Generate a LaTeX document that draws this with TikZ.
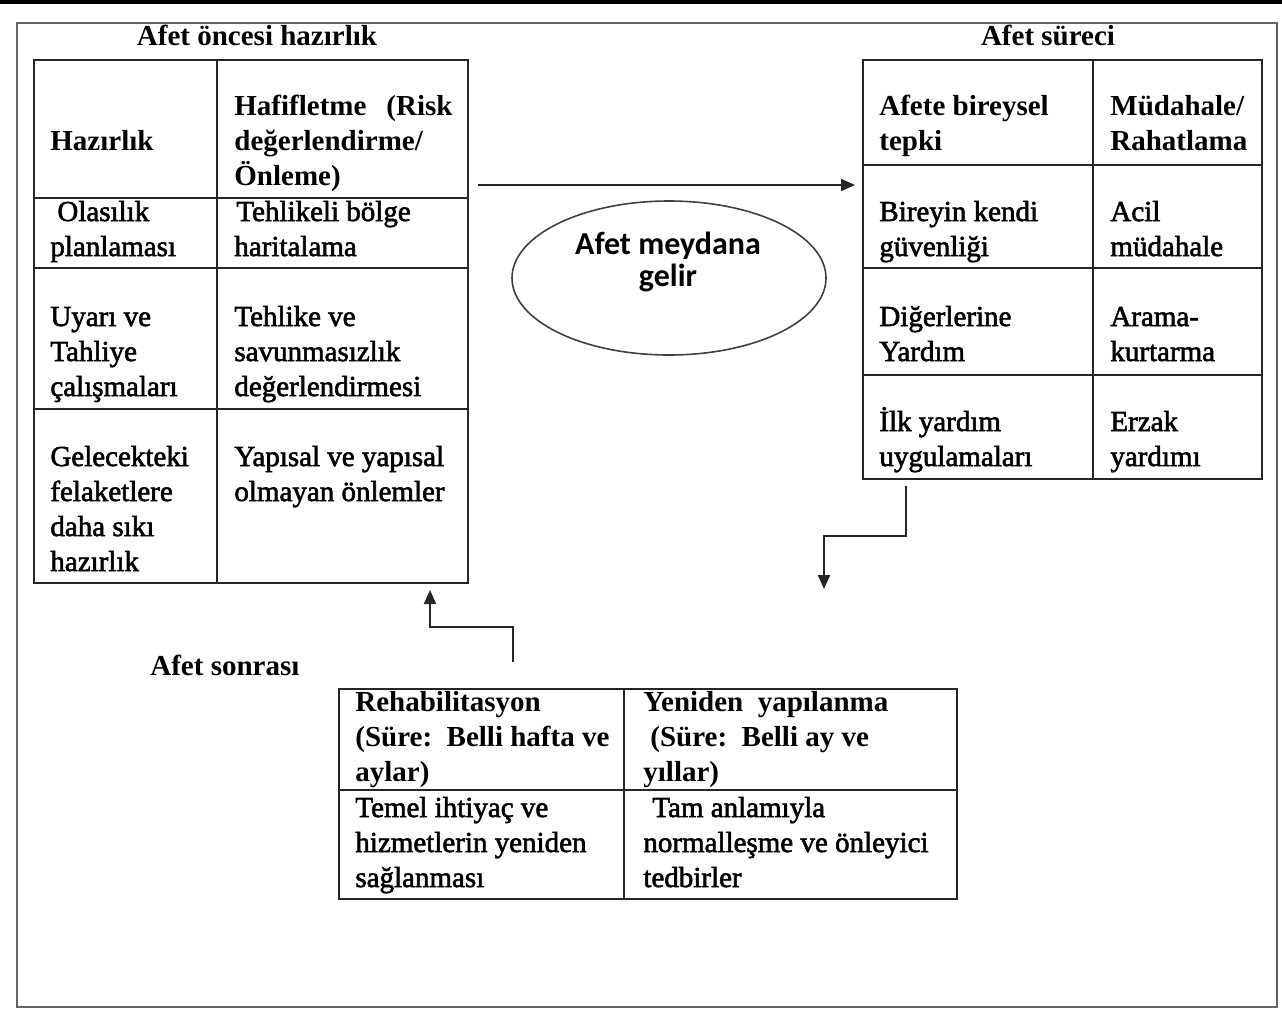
\documentclass[tikz,border=0pt]{standalone}
\usepackage{fontspec}
\setmainfont{Liberation Serif}
\newfontfamily\bodyfont{Liberation Serif}[FakeBold=2]
\newfontfamily\calibrifont{Carlito}
\usetikzlibrary{shapes.geometric,arrows.meta}
\begin{document}
\begin{tikzpicture}[x=0.5pt,y=-0.5pt,
  line/.style={draw=black!85, line width=1pt},
  tbl/.style={draw=black!85, line width=1pt, inner sep=0pt, anchor=north west},
  frame/.style={draw=black!60, line width=0.8pt},
  body/.style={anchor=base west, inner sep=0pt, yshift=-1.5pt, font=\fontsize{14.5pt}{17.5pt}\bodyfont},
  head/.style={anchor=base west, inner sep=0pt, yshift=-1.5pt, font=\fontsize{14.5pt}{17.5pt}\bfseries},
  ttl/.style={anchor=base, inner sep=0pt, yshift=-1pt, font=\fontsize{14.5pt}{17.5pt}\bfseries},
  arr/.style={draw=black!85, line width=1pt, -{Triangle[length=7pt,width=6pt]}},
]
\useasboundingbox (0,0) rectangle (1282,1009);
\fill[black] (0,0) rectangle (1282,4);
\draw[frame] (17,23) rectangle (1277,1007);

% tables
\node[tbl, minimum width=217pt, minimum height=261.5pt] (lt) at (33,59) {};
\draw[line] (217,59) -- (217,582);
\draw[line] (33,198) -- (467,198);
\draw[line] (33,268) -- (467,268);
\draw[line] (33,409) -- (467,409);

\node[tbl, minimum width=199.5pt, minimum height=209.5pt] (rt) at (862,59) {};
\draw[line] (1093,59) -- (1093,478);
\draw[line] (862,165) -- (1261,165);
\draw[line] (862,268) -- (1261,268);
\draw[line] (862,375) -- (1261,375);

\node[tbl, minimum width=309pt, minimum height=105pt] (bt) at (338,688) {};
\draw[line] (624,688) -- (624,898);
\draw[line] (338,790) -- (956,790);

% titles
\node[ttl] (ttl1) at (257,43) {Afet öncesi hazırlık};
\node[ttl] (ttl2) at (1048,43) {Afet süreci};
\node[head] (ttl3) at (150,672) {Afet sonrası};

% left table texts
\node[head] (a1) at (50,147) {Hazırlık};
\node[head] (a2) at (234,112) {Hafifletme\hspace{10pt}(Risk};
\node[head] (a3) at (234,147) {değerlendirme/};
\node[head] (a4) at (234,182) {Önleme)};
\node[body] (a5) at (57,218) {Olasılık};
\node[body] (a6) at (50,253) {planlaması};
\node[body] (a7) at (236,218) {Tehlikeli bölge};
\node[body] (a8) at (234,253) {haritalama};
\node[body] (a9) at (50,323) {Uyarı ve};
\node[body] (a10) at (50,358) {Tahliye};
\node[body] (a11) at (50,393) {çalışmaları};
\node[body] (a12) at (234,323) {Tehlike ve};
\node[body] (a13) at (234,358) {savunmasızlık};
\node[body] (a14) at (234,393) {değerlendirmesi};
\node[body] (a15) at (50,463) {Gelecekteki};
\node[body] (a16) at (50,498) {felaketlere};
\node[body] (a17) at (50,533) {daha sıkı};
\node[body] (a18) at (50,568) {hazırlık};
\node[body] (a19) at (234,463) {Yapısal ve yapısal};
\node[body] (a20) at (234,498) {olmayan önlemler};

% right table texts
\node[head] (b1) at (879,112) {Afete bireysel};
\node[head] (b2) at (879,147) {tepki};
\node[head] (b3) at (1110,112) {Müdahale/};
\node[head] (b4) at (1110,147) {Rahatlama};
\node[body] (b5) at (879,218) {Bireyin kendi};
\node[body] (b6) at (879,253) {güvenliği};
\node[body] (b7) at (1110,218) {Acil};
\node[body] (b8) at (1110,253) {müdahale};
\node[body] (b9) at (879,323) {Diğerlerine};
\node[body] (b10) at (879,358) {Yardım};
\node[body] (b11) at (1110,323) {Arama-};
\node[body] (b12) at (1110,358) {kurtarma};
\node[body] (b13) at (879,428) {İlk yardım};
\node[body] (b14) at (879,463) {uygulamaları};
\node[body] (b15) at (1110,428) {Erzak};
\node[body] (b16) at (1110,463) {yardımı};

% bottom table texts
\node[head] (c1) at (355,708) {Rehabilitasyon};
\node[head] (c2) at (355,743) {(Süre:\ \ Belli hafta ve};
\node[head] (c3) at (355,778) {aylar)};
\node[head] (c4) at (643,708) {Yeniden\ \ yapılanma};
\node[head] (c5) at (650,743) {(Süre:\ \ Belli ay ve};
\node[head] (c6) at (643,778) {yıllar)};
\node[body] (c7) at (355,814) {Temel ihtiyaç ve};
\node[body] (c8) at (355,849) {hizmetlerin yeniden};
\node[body] (c9) at (355,884) {sağlanması};
\node[body] (c10) at (652,814) {Tam anlamıyla};
\node[body] (c11) at (643,849) {normalleşme ve önleyici};
\node[body] (c12) at (643,884) {tedbirler};

% ellipse
\node[draw=black!75, line width=0.8pt, ellipse, minimum width=157pt, minimum height=77pt, inner sep=0pt] (ev) at (669,278) {};
\node[font=\fontsize{16pt}{16pt}\calibrifont\bfseries, align=center, inner sep=0pt] (evt) at (668,262) {Afet meydana\\gelir};

% connectors
\coordinate (h1) at (478,185);
\coordinate (h2) at (855,185);
\draw[arr] (h1) -- (h2);
\coordinate (r1) at (906,486);
\coordinate (r2) at (824,589);
\draw[arr] (r1) -- (906,536) -| (r2);
\coordinate (l1) at (513,662);
\coordinate (l2) at (430,590);
\draw[arr] (l1) -- (513,627) -| (l2);
\end{tikzpicture}
\end{document}
